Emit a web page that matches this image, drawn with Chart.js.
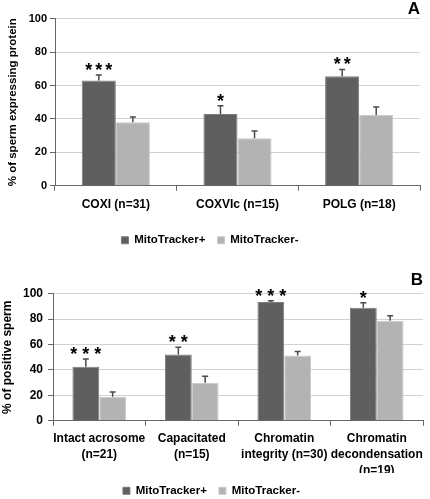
<!DOCTYPE html>
<html>
<head>
<meta charset="utf-8">
<script src="https://cdn.jsdelivr.net/npm/chart.js@4.4.0/dist/chart.umd.min.js"></script>
<style>
body { margin: 0; background: #fff; overflow: hidden; }
#wrapA { position: absolute; left: 0; top: 0; width: 430px; height: 250px; }
#wrapB { position: absolute; left: 0; top: 250px; width: 430px; height: 249px; }
</style>
</head>
<body>
<div id="wrapA"><canvas id="chartA" width="430" height="250"></canvas></div>
<div id="wrapB"><canvas id="chartB" width="430" height="249"></canvas></div>
<script>
const legendLabels = ['MitoTracker+', 'MitoTracker-']
const yTicks = [0, 20, 40, 60, 80, 100]

// panel A
const categoriesA = ['COXI (n=31)', 'COXVIc (n=15)', 'POLG (n=18)']
const plusA = [63, 43, 65.5]
const minusA = [38, 28.5, 42.3]
const plusErrA = [3.3, 4.9, 4.1]
const minusErrA = [3.1, 4.2, 4.8]
const starsA = ['***', '*', '**']

// panel B
const categoriesB = [
    ['Intact acrosome', '(n=21)'],
    ['Capacitated', '(n=15)'],
    ['Chromatin', 'integrity (n=30)'],
    ['Chromatin', 'decondensation', '(n=19)']
]
const plusB = [42.6, 52.1, 93.4, 88.9]
const minusB = [18.9, 30, 51.3, 78.7]
const plusErrB = [6.1, 5.8, 1.1, 4]
const minusErrB = [3.7, 5, 3.2, 3.9]
const starsB = ['***', '**', '***', '*']

const fam = '"Liberation Sans", Arial, sans-serif'
const axisColor = '#666'
const gridColor = '#d2d2d2'

// error bars (upper only) and significance stars
const errorBarPlugin = {
    id: 'errorBars',
    afterDatasetsDraw(chart, args, opts) {
        const ctx = chart.ctx
        const y = chart.scales.y
        ctx.save()
        ctx.strokeStyle = '#4a4a4a'
        ctx.lineWidth = 1.5
        chart.data.datasets.forEach((ds, d) => {
            const meta = chart.getDatasetMeta(d)
            meta.data.forEach((bar, i) => {
                let top = y.getPixelForValue(ds.data[i] + ds.errors[i])
                ctx.beginPath()
                ctx.moveTo(bar.x, bar.y)
                ctx.lineTo(bar.x, top)
                ctx.moveTo(bar.x - 3, top)
                ctx.lineTo(bar.x + 3, top)
                ctx.stroke()
            })
        })
        const ds = chart.data.datasets[0]
        const meta = chart.getDatasetMeta(0)
        ctx.fillStyle = '#000'
        ctx.font = 'bold 18px ' + fam
        ctx.textAlign = 'center'
        ctx.textBaseline = 'alphabetic'
        opts.stars.forEach((s, i) => {
            let bar = meta.data[i]
            let top = y.getPixelForValue(ds.data[i] + ds.errors[i])
            let n = s.length
            for (let k = 0; k < n; k++)
                ctx.fillText('*', bar.x + (k - (n - 1) / 2) * opts.pitch, top + 1)
        })
        ctx.restore()
    }
}

function makeChart(id, labels, plus, minus, plusErr, minusErr, stars, o) {
    const data = {
        labels: labels,
        datasets: [{
                label: legendLabels[0],
                data: plus,
                errors: plusErr,
                backgroundColor: '#5f5f5f',
                borderColor: '#7c7c7c',
                borderWidth: 1
            },
            {
                label: legendLabels[1],
                data: minus,
                errors: minusErr,
                backgroundColor: '#b3b3b3',
                borderColor: '#c9c9c9',
                borderWidth: 1
            }
        ]
    };
    const config = {
        type: 'bar',
        data: data,
        options: {
            responsive: false,
            animation: false,
            devicePixelRatio: 1,
            categoryPercentage: o.catPct,
            barPercentage: 1,
            layout: { padding: { left: 0, right: o.padRight, top: 0, bottom: o.padBottom } },
            plugins: {
                title: {
                    display: true, text: o.letter, align: 'end', color: '#000',
                    font: { family: fam, size: 17, weight: 'bold', lineHeight: 1.1 },
                    padding: o.letterPad
                },
                legend: {
                    position: 'bottom',
                    labels: { boxWidth: 7, boxHeight: 7, padding: 12, color: '#000', font: { family: fam, size: 11.5, weight: 'bold' } }
                },
                tooltip: { enabled: false },
                errorBars: { stars: stars, pitch: o.starPitch }
            },
            scales: {
                x: {
                    grid: { display: true, drawOnChartArea: false, drawTicks: true, tickLength: 5, tickColor: axisColor, offset: true },
                    border: { display: true, color: axisColor, width: 1 },
                    ticks: { color: '#000', maxRotation: 0, autoSkip: false, padding: o.xPad, font: { family: fam, size: 12, weight: 'bold', lineHeight: o.xLine } },
                    afterFit: s => { s.height = o.xHeight }
                },
                y: {
                    min: 0,
                    max: 100,
                    afterBuildTicks: s => { s.ticks = yTicks.map(v => ({ value: v })) },
                    grid: { color: gridColor, tickLength: 5, tickColor: axisColor },
                    border: { display: true, color: axisColor, width: 1 },
                    ticks: { color: '#000', padding: o.yPad, font: { family: fam, size: o.yFont, weight: 'bold' } },
                    title: {
                        display: true, text: o.yTitle, color: '#000',
                        padding: { top: o.yTitlePad, bottom: 0 },
                        font: { family: fam, size: o.yTitleSize, weight: 'bold' }
                    },
                    afterFit: s => { s.width = o.yWidth }
                }
            }
        },
        plugins: [errorBarPlugin]
    };
    let ctx = document.getElementById(id).getContext('2d')
    new Chart(ctx, config)
}

makeChart('chartA', categoriesA, plusA, minusA, plusErrA, minusErrA, starsA, {
    letter: 'A', letterPad: { top: 0, bottom: 0 },
    padRight: 10, padBottom: -6, xHeight: 36.75, catPct: 0.56,
    yWidth: 55, yPad: 3, yFont: 11, yTitle: '% of sperm expressing protein', yTitleSize: 11.5, yTitlePad: 6,
    xPad: 7, xLine: 1.2, starPitch: 10
})

makeChart('chartB', categoriesB, plusB, minusB, plusErrB, minusErrB, starsB, {
    letter: 'B', letterPad: { top: 21, bottom: 4 },
    padRight: 7, padBottom: -7.5, xHeight: 52.25, catPct: 0.58,
    yWidth: 53, yPad: 5, yFont: 12, yTitle: '% of positive sperm', yTitleSize: 12, yTitlePad: 0,
    xPad: 5.5, xLine: 1.3, starPitch: 12
})
</script>
</body>
</html>
